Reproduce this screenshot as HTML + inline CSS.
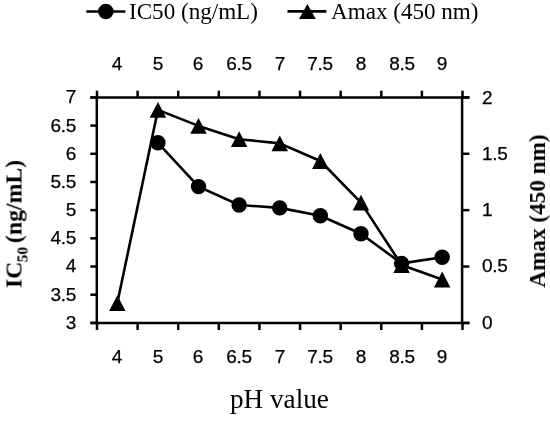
<!DOCTYPE html>
<html><head><meta charset="utf-8"><style>
html,body{margin:0;padding:0;background:#fff}
body{width:550px;height:421px;position:relative;overflow:hidden}
.t{position:absolute;white-space:nowrap;color:#000;line-height:1;will-change:transform}
.s{font-family:"Liberation Sans",sans-serif;font-size:19px;line-height:23px;-webkit-text-stroke:0.25px #000;letter-spacing:-0.3px}
.c{text-align:center}
.r{text-align:right}
.f{font-family:"Liberation Serif",serif;font-size:23.1px;line-height:26px}
.fb{font-family:"Liberation Serif",serif;font-size:23.1px;font-weight:bold;line-height:26px}
.rot{transform:translate(-50%,-50%) rotate(-90deg)}
sub{font-size:0.65em;vertical-align:baseline;position:relative;top:0.4em;margin-left:-0.8px}
</style></head><body>
<svg width="550" height="421" viewBox="0 0 550 421" style="position:absolute;left:0;top:0">
<rect width="550" height="421" fill="#fff"/>
<g stroke="#000" stroke-width="2.5" fill="none" stroke-linecap="butt">
<path d="M96.8 97.4 V323.9"/>
<path d="M462.1 97.4 V323.9"/>
<path d="M90.3 97.4 H469.40000000000003"/>
<path d="M90.3 322.9 H469.40000000000003"/>
<path d="M97.00 97.4 V90.7"/>
<path d="M97.00 322.9 V330.0"/>
<path d="M137.61 97.4 V90.7"/>
<path d="M137.61 322.9 V330.0"/>
<path d="M178.22 97.4 V90.7"/>
<path d="M178.22 322.9 V330.0"/>
<path d="M218.83 97.4 V90.7"/>
<path d="M218.83 322.9 V330.0"/>
<path d="M259.44 97.4 V90.7"/>
<path d="M259.44 322.9 V330.0"/>
<path d="M300.06 97.4 V90.7"/>
<path d="M300.06 322.9 V330.0"/>
<path d="M340.67 97.4 V90.7"/>
<path d="M340.67 322.9 V330.0"/>
<path d="M381.28 97.4 V90.7"/>
<path d="M381.28 322.9 V330.0"/>
<path d="M421.89 97.4 V90.7"/>
<path d="M421.89 322.9 V330.0"/>
<path d="M462.50 97.4 V90.7"/>
<path d="M462.50 322.9 V330.0"/>
<path d="M96.8 97.40 H90.3"/>
<path d="M96.8 125.59 H90.3"/>
<path d="M96.8 153.78 H90.3"/>
<path d="M96.8 181.96 H90.3"/>
<path d="M96.8 210.15 H90.3"/>
<path d="M96.8 238.34 H90.3"/>
<path d="M96.8 266.52 H90.3"/>
<path d="M96.8 294.71 H90.3"/>
<path d="M96.8 322.90 H90.3"/>
<path d="M462.1 97.40 H469.40000000000003"/>
<path d="M462.1 153.78 H469.40000000000003"/>
<path d="M462.1 210.15 H469.40000000000003"/>
<path d="M462.1 266.52 H469.40000000000003"/>
<path d="M462.1 322.90 H469.40000000000003"/>
</g>
<polyline points="117.31,303.10 157.92,109.90 198.53,125.90 239.14,139.20 279.75,143.35 320.36,161.00 360.97,202.60 401.58,265.00 442.19,279.50" fill="none" stroke="#000" stroke-width="2.6" stroke-linejoin="round"/>
<polyline points="157.92,142.80 198.53,186.60 239.14,205.00 279.75,207.90 320.36,215.80 360.97,233.70 401.58,263.40 442.19,257.20" fill="none" stroke="#000" stroke-width="2.6" stroke-linejoin="round"/>
<path d="M117.31 295.20 L125.56 311.00 H109.06 Z" fill="#000"/>
<path d="M157.92 102.00 L166.17 117.80 H149.67 Z" fill="#000"/>
<path d="M198.53 118.00 L206.78 133.80 H190.28 Z" fill="#000"/>
<path d="M239.14 131.30 L247.39 147.10 H230.89 Z" fill="#000"/>
<path d="M279.75 135.45 L288.00 151.25 H271.50 Z" fill="#000"/>
<path d="M320.36 153.10 L328.61 168.90 H312.11 Z" fill="#000"/>
<path d="M360.97 194.70 L369.22 210.50 H352.72 Z" fill="#000"/>
<path d="M401.58 257.10 L409.83 272.90 H393.33 Z" fill="#000"/>
<path d="M442.19 271.60 L450.44 287.40 H433.94 Z" fill="#000"/>
<circle cx="157.92" cy="142.80" r="7.7" fill="#000"/>
<circle cx="198.53" cy="186.60" r="7.7" fill="#000"/>
<circle cx="239.14" cy="205.00" r="7.7" fill="#000"/>
<circle cx="279.75" cy="207.90" r="7.7" fill="#000"/>
<circle cx="320.36" cy="215.80" r="7.7" fill="#000"/>
<circle cx="360.97" cy="233.70" r="7.7" fill="#000"/>
<circle cx="401.58" cy="263.40" r="7.7" fill="#000"/>
<circle cx="442.19" cy="257.20" r="7.7" fill="#000"/>
<path d="M86.3 11.5 H125.3" stroke="#000" stroke-width="2.6"/><circle cx="105.85" cy="11.6" r="7.75" fill="#000"/>
<path d="M287.5 11.4 H326.4" stroke="#000" stroke-width="2.6"/><path d="M307.4 3.9 L315.8 18.9 H299 Z" fill="#000"/>
</svg>
<div class="t s c" style="left:86.95px;top:51.8px;width:60px">4</div><div class="t s c" style="left:86.95px;top:345.1px;width:60px">4</div><div class="t s c" style="left:127.61px;top:51.8px;width:60px">5</div><div class="t s c" style="left:127.61px;top:345.1px;width:60px">5</div><div class="t s c" style="left:168.27px;top:51.8px;width:60px">6</div><div class="t s c" style="left:168.27px;top:345.1px;width:60px">6</div><div class="t s c" style="left:208.93px;top:51.8px;width:60px">6.5</div><div class="t s c" style="left:208.93px;top:345.1px;width:60px">6.5</div><div class="t s c" style="left:249.59px;top:51.8px;width:60px">7</div><div class="t s c" style="left:249.59px;top:345.1px;width:60px">7</div><div class="t s c" style="left:290.25px;top:51.8px;width:60px">7.5</div><div class="t s c" style="left:290.25px;top:345.1px;width:60px">7.5</div><div class="t s c" style="left:330.91px;top:51.8px;width:60px">8</div><div class="t s c" style="left:330.91px;top:345.1px;width:60px">8</div><div class="t s c" style="left:371.57px;top:51.8px;width:60px">8.5</div><div class="t s c" style="left:371.57px;top:345.1px;width:60px">8.5</div><div class="t s c" style="left:412.23px;top:51.8px;width:60px">9</div><div class="t s c" style="left:412.23px;top:345.1px;width:60px">9</div><div class="t s r" style="left:13.1px;top:85.40px;width:63px">7</div><div class="t s r" style="left:13.1px;top:113.56px;width:63px">6.5</div><div class="t s r" style="left:13.1px;top:141.72px;width:63px">6</div><div class="t s r" style="left:13.1px;top:169.88px;width:63px">5.5</div><div class="t s r" style="left:13.1px;top:198.04px;width:63px">5</div><div class="t s r" style="left:13.1px;top:226.20px;width:63px">4.5</div><div class="t s r" style="left:13.1px;top:254.36px;width:63px">4</div><div class="t s r" style="left:13.1px;top:282.52px;width:63px">3.5</div><div class="t s r" style="left:13.1px;top:310.68px;width:63px">3</div><div class="t s" style="left:482.4px;top:85.65px">2</div><div class="t s" style="left:482.4px;top:141.87px">1.5</div><div class="t s" style="left:482.4px;top:198.09px">1</div><div class="t s" style="left:482.4px;top:254.31px">0.5</div><div class="t s" style="left:482.4px;top:310.53px">0</div><div class="t f" style="left:129px;top:-2px">IC50 (ng/mL)</div><div class="t f" style="left:331px;top:-2px">Amax (450 nm)</div><div class="t f" style="left:229.7px;top:383.3px;font-size:27.2px;line-height:32px">pH value</div><div class="t fb rot" style="left:15.4px;top:224.2px;font-size:23.8px">IC<sub>50 </sub>(ng/mL)</div><div class="t fb rot" style="left:537.4px;top:211.2px;font-size:23.2px">Amax (450 nm)</div>
</body></html>
